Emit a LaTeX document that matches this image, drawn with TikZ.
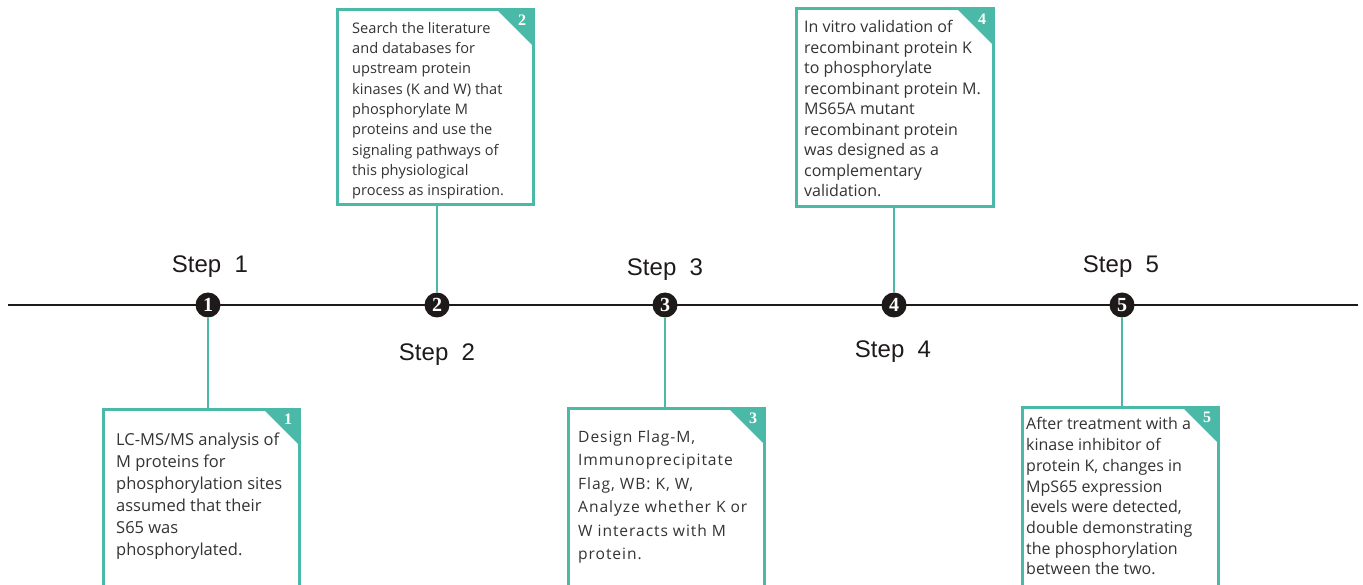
\documentclass[tikz,border=0pt]{standalone}
\usepackage{fontspec}
\setmainfont{Open Sans}
\newfontfamily\stepfont{Liberation Sans}
\newfontfamily\numfont{Liberation Serif}
\usetikzlibrary{calc}
\definecolor{teal1}{HTML}{4BB9A7}
\definecolor{txt}{HTML}{333333}
\definecolor{ink}{HTML}{1E1A1A}
\begin{document}
\begin{tikzpicture}[x=1pt,y=-1pt,
  box/.style={draw=teal1, line width=3pt, fill=white, anchor=north west, inner sep=0pt, outer sep=0pt},
  conn/.style={draw=teal1, line width=2pt},
  dot/.style={circle, fill=ink, minimum size=25pt, inner sep=0pt, text=white, font=\numfont\bfseries\fontsize{20}{20}\selectfont},
  steplbl/.style={anchor=base, inner sep=0pt, text=ink, font=\stepfont\fontsize{24}{24}\selectfont},
  corner/.style={fill=teal1},
  cnum/.style={text=white, inner sep=0pt, font=\numfont\bfseries\fontsize{16}{16}\selectfont},
  tx/.style={anchor=north west, align=left, inner sep=0pt, text=txt}
]
\useasboundingbox (0,0) rectangle (1363,585);
\clip (0,0) rectangle (1363,585);

% timeline
\coordinate (L) at (8,305);
\coordinate (R) at (1358,305);
\draw[ink, line width=1.8pt] (L) -- (R);

% dots
\node[dot] (c1) at (208,305) {1};
\node[dot] (c2) at (437,305) {2};
\node[dot] (c3) at (665,305) {3};
\node[dot] (c4) at (894,305) {4};
\node[dot] (c5) at (1122,305) {5};

% step labels
\node[steplbl] (s1) at (210,273) {Step~~1};
\node[steplbl] (s2) at (437,360) {Step~~2};
\node[steplbl] (s3) at (665,276) {Step~~3};
\node[steplbl] (s4) at (893,358) {Step~~4};
\node[steplbl] (s5) at (1121,273) {Step~~5};

% boxes
\node[box, minimum width=196pt, minimum height=195pt] (b1) at (103,409) {};
\node[box, minimum width=196pt, minimum height=195pt] (b2) at (337,10) {};
\node[box, minimum width=196pt, minimum height=195pt] (b3) at (568,408) {};
\node[box, minimum width=197pt, minimum height=198pt] (b4) at (796,9) {};
\node[box, minimum width=196pt, minimum height=195pt] (b5) at (1022,407) {};

% connectors
\draw[conn] (c1.south) -- (c1.south |- b1.north);
\draw[conn] (c2.north) -- (c2.north |- b2.south);
\draw[conn] (c3.south) -- (c3.south |- b3.north);
\draw[conn] (c4.north) -- (c4.north |- b4.south);
\draw[conn] (c5.south) -- (c5.south |- b5.north);

% corner flags
\foreach \b/\n in {b1/1,b2/2,b3/3,b4/4,b5/5}{
  \fill[corner] (\b.north east) -- ++(-36,0) -- ++(36,36) -- cycle;
  \node[cnum] (n\n) at ($(\b.north east)+(-11,10)$) {\n};
}

% texts
\node[tx, font=\fontsize{16.5}{22}\selectfont] (t1) at (116,433)
 {LC-MS/MS analysis of\\M proteins for\\phosphorylation sites\\assumed that their\\S65 was\\phosphorylated.};
\node[tx, font=\fontsize{14.6}{20.3}\selectfont] (t2) at (352,22)
 {Search the literature\\and databases for\\upstream protein\\kinases (K and W) that\\phosphorylate M\\proteins and use the\\signaling pathways of\\this physiological\\process as inspiration.};
\node[tx, font=\addfontfeature{LetterSpace=6}\fontsize{15.6}{23.5}\selectfont] (t3) at (578,430)
 {Design Flag-M,\\Immunoprecipitate\\Flag, WB: K, W,\\Analyze whether K or\\W interacts with M\\protein.};
\node[tx, font=\fontsize{16}{20.5}\selectfont] (t4) at (804,20.5)
 {In vitro validation of\\recombinant protein K\\to phosphorylate\\recombinant protein M.\\MS65A mutant\\recombinant protein\\was designed as a\\complementary\\validation.};
\node[tx, font=\fontsize{16}{20.7}\selectfont] (t5) at (1026,417.5)
 {After treatment with a\\kinase inhibitor of\\protein K, changes in\\MpS65 expression\\levels were detected,\\double demonstrating\\the phosphorylation\\between the two.};
\end{tikzpicture}
\end{document}
